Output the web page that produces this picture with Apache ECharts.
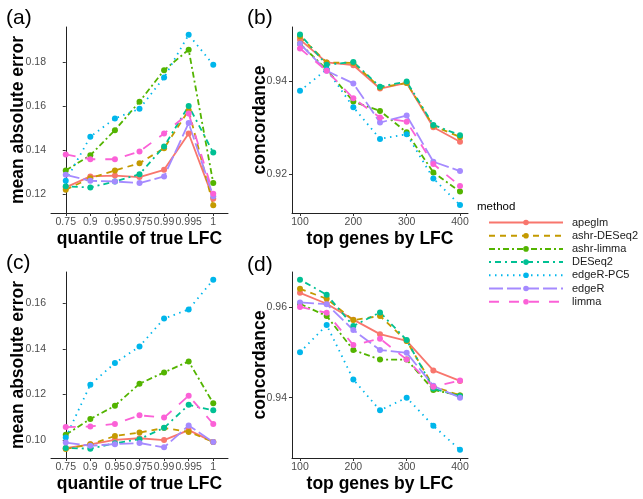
<!DOCTYPE html>
<html>
<head>
<meta charset="utf-8">
<script src="https://cdn.jsdelivr.net/npm/echarts@6/dist/echarts.min.js"></script>
<style>
html,body{margin:0;padding:0;background:#fff;}
#chart{width:643px;height:499px;}
</style>
</head>
<body>
<div id="chart"></div>
<script>
// ---------- data ----------
const methods = ['apeglm','ashr-DESeq2','ashr-limma','DESeq2','edgeR-PC5','edgeR','limma'];
const colors  = ['#F8766D','#C49A00','#53B400','#00C094','#00B6EB','#A58AFF','#FB61D7'];
const quantileLabels = ['0.75','0.9','0.95','0.975','0.99','0.995','1'];
const topGenes = [100,150,200,250,300,350,400];

// panel (a): mean absolute error by quantile (rows follow `methods`)
const maeA = [
  [0.123, 0.128, 0.1284, 0.1277, 0.131, 0.1475, 0.1179],
  [0.122, 0.1272, 0.1307, 0.134, 0.1408, 0.158, 0.1149],
  [0.1307, 0.1376, 0.149, 0.1619, 0.1762, 0.1855, 0.125],
  [0.1235, 0.123, 0.1257, 0.129, 0.1416, 0.160, 0.1388],
  [0.126, 0.146, 0.1543, 0.1587, 0.1729, 0.1923, 0.1787],
  [0.1287, 0.126, 0.1257, 0.125, 0.128, 0.1522, 0.119],
  [0.138, 0.1358, 0.1358, 0.1393, 0.1475, 0.1566, 0.1201]
];
// panel (b): concordance by top genes
const concB = [
  [0.9489, 0.944, 0.9434, 0.9384, 0.9396, 0.9301, 0.927],
  [0.9496, 0.944, 0.9439, 0.9386, 0.9396, 0.9304, 0.928],
  [0.948, 0.9425, 0.9356, 0.9336, 0.929, 0.9204, 0.9163],
  [0.950, 0.9435, 0.9441, 0.9388, 0.9399, 0.9306, 0.9284],
  [0.9379, 0.9425, 0.9344, 0.9276, 0.9286, 0.9191, 0.9134],
  [0.948, 0.9422, 0.9395, 0.9311, 0.9326, 0.9227, 0.9207],
  [0.947, 0.9422, 0.9363, 0.9322, 0.9313, 0.9222, 0.9175]
];
// panel (c): mean absolute error by quantile
const maeC = [
  [0.0963, 0.098, 0.100, 0.1007, 0.0999, 0.1043, 0.0991],
  [0.096, 0.098, 0.1017, 0.1032, 0.1052, 0.1035, 0.0991],
  [0.1022, 0.1092, 0.115, 0.1247, 0.1297, 0.1345, 0.1161],
  [0.0964, 0.0961, 0.0985, 0.1003, 0.1053, 0.1154, 0.113],
  [0.101, 0.1243, 0.1338, 0.1411, 0.1534, 0.1574, 0.1705],
  [0.0988, 0.0974, 0.0981, 0.0986, 0.0967, 0.1063, 0.099],
  [0.1056, 0.1059, 0.107, 0.1108, 0.1098, 0.1194, 0.107]
];
// panel (d): concordance by top genes
const concD = [
  [0.9631, 0.9607, 0.9572, 0.954, 0.9525, 0.946, 0.9437],
  [0.964, 0.9618, 0.9571, 0.958, 0.9525, 0.9425, 0.9405],
  [0.9607, 0.958, 0.9505, 0.9484, 0.9484, 0.9417, 0.9405],
  [0.966, 0.9627, 0.9558, 0.9588, 0.9527, 0.942, 0.9403],
  [0.950, 0.956, 0.944, 0.9372, 0.940, 0.9338, 0.9285],
  [0.961, 0.9606, 0.9549, 0.9505, 0.9499, 0.9426, 0.940],
  [0.960, 0.9587, 0.9516, 0.953, 0.9484, 0.9424, 0.9438]
];
const yTicksA = [0.12, 0.14, 0.16, 0.18];
const yTicksB = [0.92, 0.94];
const yTicksC = [0.10, 0.12, 0.14, 0.16];
const yTicksD = [0.94, 0.96];
const xTicksGenes = [100, 200, 300, 400];

// ---------- styles ----------
const dashes = ['solid', [6,5], [6,3,2,3], [2,4,6,4], [1.5,4.5], [14,4], [10,10]];
const FONT = '"Liberation Sans", Arial, sans-serif';
const tickLabel = {color:'#4D4D4D', fontSize:10.5, fontFamily:FONT};
const axisLine = {show:true, lineStyle:{color:'#222', width:1}};
const axisTick = {show:true, length:3, lineStyle:{color:'#333'}};
const nameStyle = {fontSize:17.5, fontWeight:'bold', color:'#000', fontFamily:FONT};

const grids = [
  {left:51, top:27, width:177, height:186},
  {left:292, top:27, width:176, height:186},
  {left:51, top:272, width:177, height:186},
  {left:292, top:272, width:176, height:186}
];
const idx = quantileLabels.map((_, i) => i);

function qAxis(gi){
  return {type:'value', gridIndex:gi, min:-0.6, max:6.6,
    name:'quantile of true LFC', nameLocation:'middle', nameGap:17, nameMoveOverlap:false, nameTextStyle:nameStyle,
    axisLine, axisTick:Object.assign({customValues:idx}, axisTick),
    axisLabel:Object.assign({customValues:idx, margin:4, formatter:v => quantileLabels[Math.round(v)]}, tickLabel),
    splitLine:{show:false}};
}
function gAxis(gi){
  return {type:'value', gridIndex:gi, min:85, max:415,
    name:'top genes by LFC', nameLocation:'middle', nameGap:17, nameMoveOverlap:false, nameTextStyle:nameStyle,
    axisLine, axisTick:Object.assign({customValues:xTicksGenes}, axisTick),
    axisLabel:Object.assign({customValues:xTicksGenes, margin:4}, tickLabel),
    splitLine:{show:false}};
}
function yAxis(gi, min, max, ticks, name, gap){
  return {type:'value', gridIndex:gi, min, max,
    name, nameLocation:'middle', nameGap:gap, nameMoveOverlap:false, nameTextStyle:nameStyle,
    axisLine, axisTick:Object.assign({customValues:ticks}, axisTick),
    axisLabel:Object.assign({customValues:ticks, margin:5, formatter:v => v.toFixed(2)}, tickLabel),
    splitLine:{show:false}};
}

const series = [];
function addPanel(gi, xs, table){
  table.forEach((row, m) => {
    series.push({
      type:'line', name:methods[m], xAxisIndex:gi, yAxisIndex:gi,
      data: row.map((v, i) => [xs[i], v]),
      symbol:'circle', symbolSize:6, showSymbol:true,
      lineStyle:{width:1.8, type:dashes[m], color:colors[m]},
      itemStyle:{color:colors[m]},
      emphasis:{disabled:true}, animation:false
    });
  });
}
addPanel(0, idx, maeA);
addPanel(1, topGenes, concB);
addPanel(2, idx, maeC);
addPanel(3, topGenes, concD);

const panelTitle = (text, left, top) => ({text, left, top,
  textStyle:{fontSize:21, fontWeight:'normal', color:'#000', fontFamily:FONT}});

const option = {
  backgroundColor:'#fff',
  animation:false,
  title:[
    panelTitle('(a)', 1, 3), panelTitle('(b)', 242, 3),
    panelTitle('(c)', 1, 248), panelTitle('(d)', 242, 250),
    {text:'method', left:472, top:196, textStyle:{fontSize:11.5, fontWeight:'normal', color:'#000', fontFamily:FONT}}
  ],
  grid:grids,
  xAxis:[qAxis(0), gAxis(1), qAxis(2), gAxis(3)],
  yAxis:[
    yAxis(0, 0.1114, 0.1958, yTicksA, 'mean absolute error', 24),
    yAxis(1, 0.9117, 0.9516, yTicksB, 'concordance', 23),
    yAxis(2, 0.0920, 0.1739, yTicksC, 'mean absolute error', 24),
    yAxis(3, 0.9267, 0.9677, yTicksD, 'concordance', 23)
  ],
  legend:{
    orient:'vertical', left:483, top:212, data:methods,
    itemWidth:74, itemHeight:7, itemGap:2.2, selectedMode:false,
    textStyle:{fontSize:11, color:'#1a1a1a', fontFamily:FONT, padding:[0,0,0,4]}
  },
  series
};
const chart = echarts.init(document.getElementById('chart'), null, {renderer:'canvas'});
chart.setOption(option);
</script>
</body>
</html>
